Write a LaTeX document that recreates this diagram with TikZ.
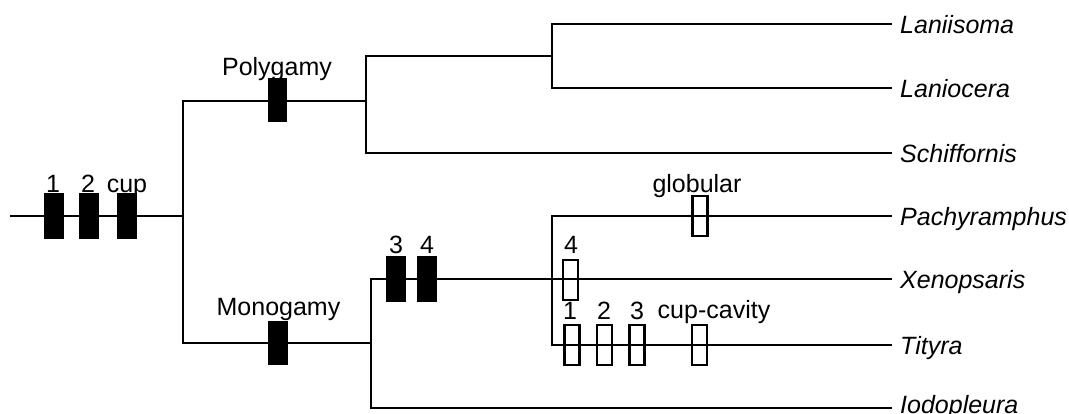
\documentclass[tikz,border=0pt]{standalone}
\usepackage{fontspec}
\setmainfont{Liberation Sans}
\begin{document}
\begin{tikzpicture}[x=1pt,y=-1pt,
  branch/.style={line width=2.4pt, line join=miter},
  solidbox/.style={draw=none, fill=black, minimum width=20pt, minimum height=46pt, inner sep=0pt, outer sep=0pt},
  openbox/.style={draw=black, line width=2.2pt, minimum width=15pt, minimum height=40pt, inner sep=0pt, outer sep=0pt},
  lbl/.style={font=\fontsize{25}{29}\selectfont, anchor=base, inner sep=0pt},
  taxon/.style={font=\fontsize{25}{29}\selectfont\itshape, anchor=base west, inner sep=0pt}]
\useasboundingbox (0,0) rectangle (1069,413);

% tree nodes
\coordinate (r0) at (10,216);
\coordinate (R) at (183,216);
\coordinate (P) at (366,101);
\coordinate (L) at (552,56);
\coordinate (M) at (371,343);
\coordinate (S) at (552,279);
% tips
\coordinate (tLanii) at (892,24);
\coordinate (tLanio) at (892,88);
\coordinate (tSchiff) at (892,153);
\coordinate (tPachy) at (892,216);
\coordinate (tXeno) at (892,279);
\coordinate (tTit) at (892,345);
\coordinate (tIodo) at (892,408);

\draw[branch] (r0) -- (R);
\draw[branch] (R) |- (P);
\draw[branch] (R) |- (M);
\draw[branch] (P) |- (L);
\draw[branch] (P) |- (tSchiff);
\draw[branch] (L) |- (tLanii);
\draw[branch] (L) |- (tLanio);
\draw[branch] (M) |- (tXeno);
\draw[branch] (M) |- (tIodo);
\draw[branch] (S) |- (tPachy);
\draw[branch] (S) |- (tTit);

% taxon labels
\node[taxon] (nLanii) at (900,33) {Laniisoma};
\node[taxon] (nLanio) at (900,97) {Laniocera};
\node[taxon] (nSchiff) at (900,162) {Schiffornis};
\node[taxon] (nPachy) at (900,225) {Pachyramphus};
\node[taxon] (nXeno) at (900,288) {Xenopsaris};
\node[taxon] (nTit) at (900,354) {Tityra};
\node[taxon] (nIodo) at (900,413) {Iodopleura};

% root characters
\node[solidbox] (b1) at (54,216) {};
\node[solidbox] (b2) at (89,216) {};
\node[solidbox] (bcup) at (126.5,216) {};
\node[lbl] (l1) at (53,192) {1};
\node[lbl] (l2) at (88,192) {2};
\node[lbl] (lcup) at (127,192) {cup};

% polygamy / monogamy
\node[solidbox, minimum width=19pt, minimum height=44pt] (bpoly) at (277.5,100) {};
\node[lbl] (lpoly) at (277,75) {Polygamy};
\node[solidbox, minimum width=20pt, minimum height=44pt] (bmono) at (278,343) {};
\node[lbl] (lmono) at (278.5,315) {Monogamy};

% 3 4 solid
\node[solidbox] (b3) at (396,279) {};
\node[solidbox] (b4) at (427,279) {};
\node[lbl] (l3) at (396,253) {3};
\node[lbl] (l4) at (427,253) {4};

% open boxes
\node[openbox] (oglob) at (700,216) {};
\node[lbl] (lglob) at (697,192) {globular};
\node[openbox] (o4) at (570.5,280) {};
\node[lbl] (lo4) at (571,253) {4};
\node[openbox] (o1) at (572,345) {};
\node[openbox] (o2) at (604.5,345) {};
\node[openbox] (o3) at (637,345) {};
\node[openbox] (ocup) at (699.5,345) {};
\node[lbl] (lo1) at (570,319) {1};
\node[lbl] (lo2) at (604,319) {2};
\node[lbl] (lo3) at (637,319) {3};
\node[lbl] (locup) at (714,318) {cup-cavity};
\end{tikzpicture}
\end{document}
